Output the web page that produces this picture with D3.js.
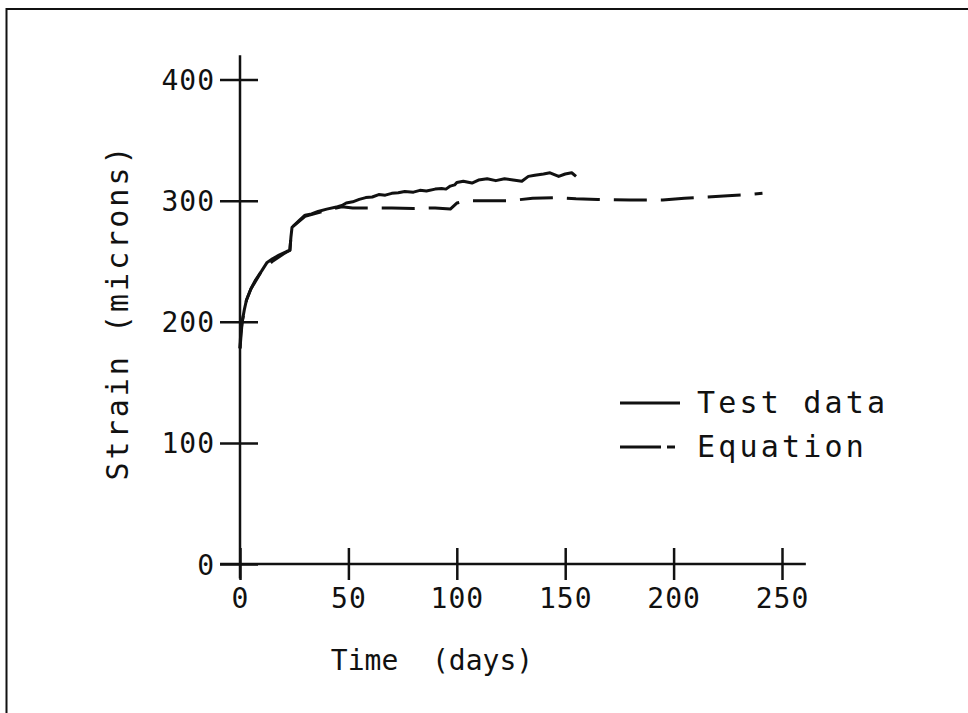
<!DOCTYPE html>
<html>
<head>
<meta charset="utf-8">
<script src="https://cdn.jsdelivr.net/npm/d3@7"></script>
<style>
  html, body { margin: 0; padding: 0; background: #fff; }
  svg { display: block; }
  text { font-family: "DejaVu Sans Mono", "Liberation Mono", monospace; fill: #111; }
</style>
</head>
<body>
<svg id="chart" width="968" height="713"></svg>
<script>
// ---- data ----
const xTicks = [0, 50, 100, 150, 200, 250];
const yTicks = [0, 100, 200, 300, 400];
const xTitle = "Time  (days)";
const yTitle = "Strain (microns)";
const legendLabels = ["Test data", "Equation"];

const testDays   = [0, 0.3, 1, 2, 3, 5, 7, 10, 12.5, 15, 18, 21.5, 23, 23.5, 24, 27, 30, 33, 36, 40, 45, 47, 49, 52, 55, 58, 61, 64, 67, 70, 73, 76, 80, 83, 86, 90, 93, 95, 97, 99, 100, 103, 107, 110, 114, 118, 122, 126, 130, 133, 136, 140, 143, 147, 150, 153, 155];
const testStrain = [178, 190, 200, 210, 218, 227, 234, 242, 249, 252, 255, 258, 259, 270, 278, 283, 288, 289, 291, 293, 295, 296, 298, 299, 301, 302.5, 303, 305, 304.5, 306, 306.5, 307.5, 307, 308.5, 308, 309.5, 310, 309.5, 312, 313, 315, 316, 314.5, 317, 318, 316.5, 318, 317, 316, 320, 321, 322, 323, 320, 322, 323, 320];

const eqDays   = [0, 1, 3, 5, 10, 15, 20, 23, 23.5, 24, 30, 40, 47, 52, 60, 70, 80, 90, 97, 100, 105, 115, 125, 135, 145, 155, 165, 180, 195, 205, 215, 225, 235, 241];
const eqStrain = [178, 200, 218, 227, 242, 250, 256, 259, 270, 278, 287, 292, 295, 294, 294, 294, 293.5, 294, 293, 298, 300, 300, 300, 302, 302.5, 301.5, 301, 300.5, 300.5, 302, 303, 304, 305, 306];

// ---- layout ----
const svg = d3.select("#chart");
const x = d3.scaleLinear().domain([0, 250]).range([240, 782]);
const y = d3.scaleLinear().domain([0, 400]).range([564, 79.5]);
const ink = "#111";

// frame
svg.append("rect").attr("x", 6.5).attr("y", 9).attr("width", 980).attr("height", 730)
  .attr("fill", "none").attr("stroke", ink).attr("stroke-width", 2);

// axes lines
svg.append("line").attr("x1", x(0)).attr("x2", x(0)).attr("y1", y(420)).attr("y2", y(-12))
  .attr("stroke", ink).attr("stroke-width", 2.5);
svg.append("line").attr("x1", x(-9.2)).attr("x2", x(261)).attr("y1", y(0)).attr("y2", y(0))
  .attr("stroke", ink).attr("stroke-width", 2.5);

// y axis ticks via d3 axis
const yAxis = svg.append("g").attr("transform", `translate(${x(0)},0)`)
  .call(d3.axisLeft(y).tickValues(yTicks).tickSize(20).tickPadding(5).tickFormat(d3.format("d")));
yAxis.select(".domain").remove();
yAxis.selectAll(".tick line").attr("x1", 18).attr("x2", -20).attr("stroke", ink).attr("stroke-width", 2.5);
yAxis.selectAll(".tick text").attr("font-size", 28).attr("letter-spacing", 1).attr("dy", "0.36em")
  .style("font-family", "'DejaVu Sans Mono', monospace").attr("fill", ink);

// x axis ticks via d3 axis
const xAxis = svg.append("g").attr("transform", `translate(0,${y(0)})`)
  .call(d3.axisBottom(x).tickValues(xTicks).tickSize(16).tickPadding(8).tickFormat(d3.format("d")));
xAxis.select(".domain").remove();
xAxis.selectAll(".tick line").attr("y1", -16).attr("y2", 16).attr("stroke", ink).attr("stroke-width", 2.5);
xAxis.selectAll(".tick text").attr("font-size", 28).attr("letter-spacing", 1)
  .style("font-family", "'DejaVu Sans Mono', monospace").attr("fill", ink);

// titles
svg.append("text").attr("x", 432).attr("y", 670).attr("text-anchor", "middle")
  .attr("font-size", 28).attr("letter-spacing", 0).style("white-space", "pre").text(xTitle);
svg.append("text").attr("transform", "translate(128,312) rotate(-90)").attr("text-anchor", "middle")
  .attr("font-size", 30).attr("letter-spacing", 3).text(yTitle);

// curves
const line = d3.line().x(d => x(d[0])).y(d => y(d[1])).curve(d3.curveLinear);
const eqData = eqDays.map((d, i) => [d, eqStrain[i]]);
const testData = testDays.map((d, i) => [d, testStrain[i]]);

svg.append("path").datum(eqData).attr("d", line).attr("fill", "none").attr("stroke", ink)
  .attr("stroke-width", 3).attr("stroke-dasharray", "33,14").attr("stroke-linejoin", "round");
svg.append("path").datum(testData).attr("d", line).attr("fill", "none").attr("stroke", ink)
  .attr("stroke-width", 3).attr("stroke-linejoin", "round");

// legend
const lg = svg.append("g");
lg.append("line").attr("x1", 620).attr("x2", 680).attr("y1", 403).attr("y2", 403).attr("stroke", ink).attr("stroke-width", 3);
lg.append("line").attr("x1", 620).attr("x2", 661).attr("y1", 447).attr("y2", 447).attr("stroke", ink).attr("stroke-width", 3);
lg.append("line").attr("x1", 667).attr("x2", 675).attr("y1", 447).attr("y2", 447).attr("stroke", ink).attr("stroke-width", 3);
lg.selectAll("text.lab").data(legendLabels).join("text").attr("class", "lab")
  .attr("x", 697).attr("y", (d, i) => 413 + i * 44)
  .attr("font-size", 30).attr("letter-spacing", 3.2).text(d => d);
</script>
</body>
</html>
